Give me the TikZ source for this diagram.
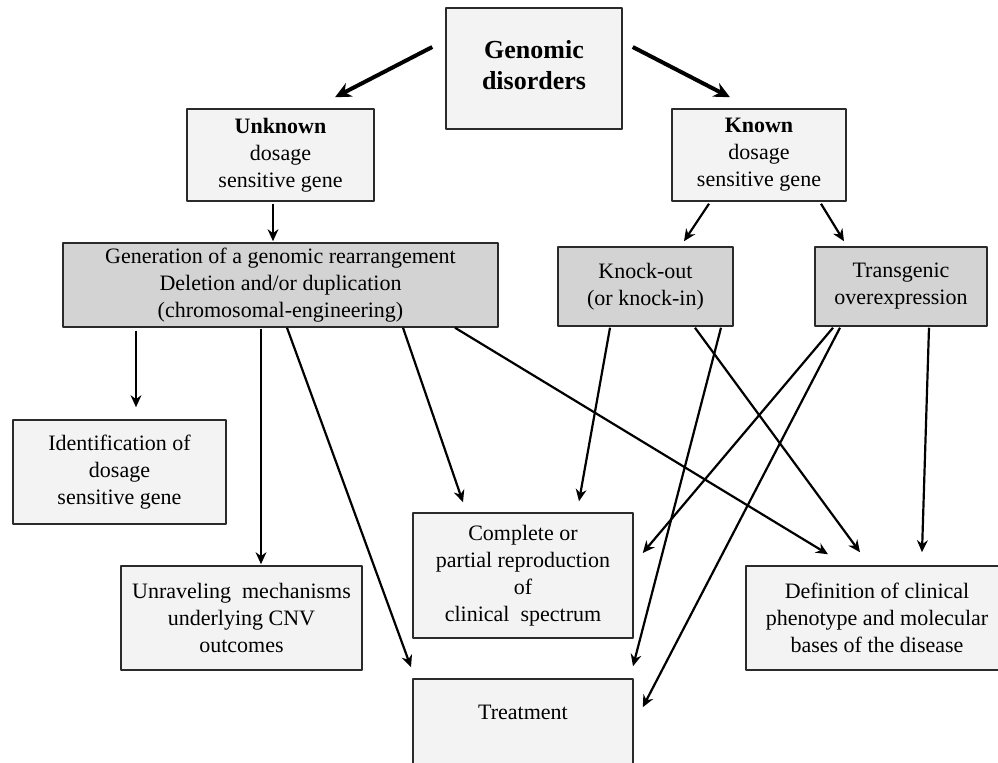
\documentclass[tikz,border=0pt]{standalone}
\usepackage{fontspec}
\setmainfont{Liberation Serif}
\usetikzlibrary{arrows.meta,calc}
\definecolor{boxlight}{HTML}{F3F3F3}
\definecolor{boxdark}{HTML}{D3D3D3}
\definecolor{edge}{HTML}{2A2A2A}
\begin{document}
\begin{tikzpicture}[x=0.5pt,y=0.5pt,>={Stealth[length=6pt,width=5.4pt]},line join=round,
	font=\fontsize{11}{13.5}\selectfont,
	box/.style={draw=edge,line width=0.75pt,fill=boxlight,align=center,inner sep=0pt},
	dbox/.style={box,fill=boxdark},
	link/.style={->,line width=1.1pt},
	mainlink/.style={-{Stealth[length=8pt,width=7.5pt]},line width=2pt}]
	\useasboundingbox (0,0) rectangle (998,762);
	\clip (0,0) rectangle (998,762);
	\fill[white] (0,0) rectangle (998,762);
	% boxes
	\node[box,minimum width=88pt,minimum height=60.5pt,text depth=4pt,font=\fontsize{13}{15.5}\selectfont\bfseries] (gd) at (534,693.5) {Genomic\\disorders};
	\node[box,minimum width=93.5pt,minimum height=46pt] (unk) at (280.5,607) {\textbf{Unknown}\\dosage\\sensitive gene};
	\node[box,minimum width=87pt,minimum height=46pt] (kn) at (759,607) {\textbf{Known}\\dosage\\sensitive gene};
	\node[dbox,minimum width=217.5pt,minimum height=42pt] (gen) at (280.5,477) {Generation of a genomic rearrangement\\Deletion and/or duplication\\(chromosomal-engineering)};
	\node[dbox,minimum width=87.5pt,minimum height=39.5pt] (ko) at (645.5,475.5) {Knock-out\\(or knock-in)};
	\node[dbox,minimum width=86pt,minimum height=39.5pt] (tg) at (901,475.5) {Transgenic\\overexpression};
	\node[box,minimum width=106.5pt,minimum height=52pt] (ident) at (119.5,290) {Identification of\\dosage\\sensitive gene};
	\node[box,minimum width=120.5pt,minimum height=52pt] (unr) at (241.5,144) {Unraveling\ \ mechanisms\\underlying CNV\\outcomes};
	\node[box,minimum width=110pt,minimum height=62.5pt] (comp) at (523,186.5) {Complete or\\partial reproduction\\of\\clinical\ \ spectrum};
	\node[box,minimum width=110pt,minimum height=50pt,text depth=17pt] (treat) at (523,33) {Treatment};
	\node[box,minimum width=131pt,minimum height=52pt] (defn) at (877,144) {Definition of clinical\\phenotype and molecular\\bases of the disease};
	% arrows
	\draw[mainlink] ($(gd.west)+(-13,21.5)$) -- ($(unk.north)+(54.5,11)$);
	\draw[mainlink] ($(gd.east)+(10,21.5)$) -- ($(kn.north)+(-29,11)$);
	\draw[link] ($(unk.south)+(-7.5,-2)$) -- ($(gen.north)+(-7.5,1)$);
	\draw[link] ($(kn.south)+(-50,-2)$) -- ($(ko.north)+(38.5,5)$);
	\draw[link] ($(kn.south)+(62,-2)$) -- ($(tg.north)+(-57,5)$);
	\draw[link] ($(gen.south)+(-144.5,-3)$) -- ($(ident.north)+(16.5,12)$);
	\draw[link] ($(gen.south)+(-19.5,-1)$) -- ($(unr.north)+(19.5,1)$);
	\draw[link] ($(gen.south)+(6.5,0)$) -- ($(treat.north)+(-112,11)$);
	\draw[link] ($(gen.south)+(122.5,0)$) -- ($(comp.north)+(-60,10)$);
	\draw[link] ($(gen.south)+(174.5,0)$) -- ($(defn.north)+(-49,11)$);
	\draw[link] ($(ko.south)+(-35.5,-1)$) -- ($(comp.north)+(56,11)$);
	\draw[link] ($(ko.south)+(75.5,-1)$) -- ($(treat.north)+(110,12)$);
	\draw[link] ($(ko.south)+(49.5,-1)$) -- ($(defn.north)+(-17,13)$);
	\draw[link] ($(tg.south)+(-68,-1)$) -- ($(comp.east)+(9,22.5)$);
	\draw[link] ($(tg.south)+(-61,-1)$) -- ($(treat.north east)+(9,-29)$);
	\draw[link] ($(tg.south)+(28,-1)$) -- ($(defn.north)+(45,13)$);
\end{tikzpicture}
\end{document}
